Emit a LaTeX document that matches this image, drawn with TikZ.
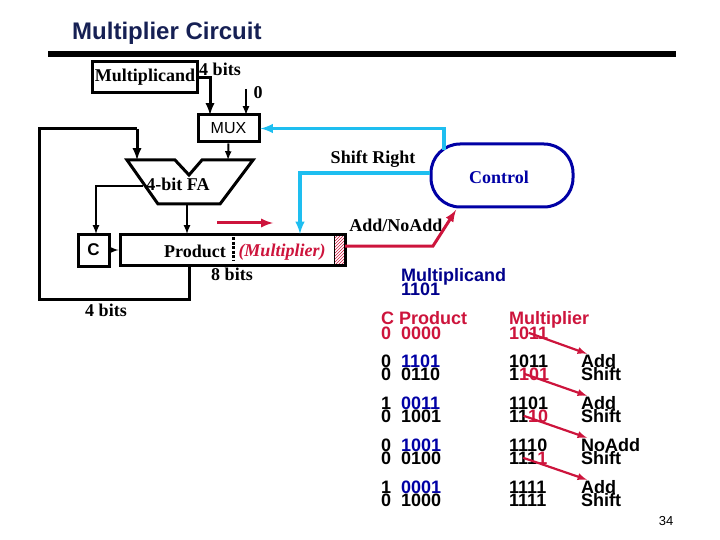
\documentclass[tikz,border=0pt]{standalone}
\usepackage{fontspec}
\setmainfont{Liberation Serif}
\setsansfont{Liberation Sans}
\usetikzlibrary{patterns,positioning}
\definecolor{titleblue}{RGB}{22,32,84}
\definecolor{crimsonred}{RGB}{205,20,60}
\definecolor{sigcyan}{RGB}{30,190,240}
\definecolor{ctrlblue}{RGB}{0,0,165}
\newcommand{\serifbf}[1]{\fontsize{#1}{#1}\selectfont\rmfamily\bfseries}
\newcommand{\sansbf}[1]{\fontsize{#1}{#1}\selectfont\sffamily\bfseries}

\begin{document}
\begin{tikzpicture}[x=1pt,y=-1pt,>=latex,
    box/.style={draw,line width=3pt,inner sep=0pt},
    bus/.style={line width=3pt},
    wire/.style={line width=2pt},
    signal/.style={sigcyan,line width=3.2pt},
    redsig/.style={crimsonred,line width=3pt},
    lbl/.style={font=\serifbf{18},inner sep=0pt},
    tbl/.style={font=\sansbf{18},inner sep=0pt,anchor=base west},
    shiftarrow/.style={crimsonred,line width=2.2pt,->}]
\useasboundingbox (0,0) rectangle (720,540);

% === Title ===
\node[font=\sansbf{24},text=titleblue,anchor=base west,inner sep=0pt] (title) at (72,40) {Multiplier Circuit};
\fill (48,51.5) rectangle (676,57);

% === Multiplicand and MUX ===
\node[box,lbl,minimum width=105,minimum height=31] (mcand) at (145,77.5) {Multiplicand};
\node[lbl] (mbits) at (220,69) {4 bits};
\node[lbl] (zero) at (258,93) {0};
\node[box,minimum width=61,minimum height=27,font=\fontsize{16}{16}\selectfont\sffamily] (mux) at (228.5,128.5) {MUX};
\coordinate (muxl) at (210,115);
\coordinate (muxr) at (246,115);
\coordinate (zerotop) at (246,89);
\draw[bus,->] (mcand.east) -| (muxl);
\draw[wire,->] (zerotop) -- (muxr);

% === Adder ===
\coordinate (fatopl) at (127,160);
\coordinate (fatopm) at (228,160);
\coordinate (fatopf) at (137,160);
\coordinate (fabot) at (187,204);
\coordinate (faside) at (143,186);
\draw[line width=3pt,line join=miter] (fatopl) -- (175,160) -- (189,175) -- (202,160) -- (253,160) -- (220,204) -- (158,204) -- cycle;
\node[lbl] (fa) at (178,184) {4-bit FA};
\draw[wire,->] (mux.south) -- (fatopm);

% === Product register ===
\node[box,font=\sansbf{17},minimum width=31,minimum height=32] (carry) at (93.5,250) {C};
\node[box,minimum width=225,minimum height=31] (prod) at (232.5,250) {};
\node[lbl] (prodtxt) at (195,251) {Product};
\node[lbl,font=\serifbf{18}\itshape,text=crimsonred] (mtxt) at (282,252) {(Multiplier)};
\node[lbl] (ebits) at (232,274) {8 bits};
\node[lbl] (fbits) at (106,310) {4 bits};
\draw[line width=3pt,dash pattern=on 3pt off 1.5pt] (233,237) -- (233,261);
\draw[pattern=north east lines,pattern color=crimsonred,line width=1pt] (334,235.5) rectangle (344,264.5);
\coordinate (prodfa) at (187,234);
\coordinate (prodout) at (189,267);
\coordinate (prodctl) at (300,234);
\coordinate (prodbit) at (345,246);
\coordinate (carryin) at (96,234);
\draw[wire,->] (fabot) -- (prodfa);
\draw[wire,->] (faside) -| (carryin);
\draw[wire,->] (carry.east) -- (prod.west);
\draw[bus] (prodout) -- (189,299) -- (39,299) -- (39,129) -- (137,129);
\draw[bus,->] (137,129) -- (fatopf);
\coordinate (rshifta) at (217,223);
\coordinate (rshiftb) at (273,223);
\draw[redsig,->] (rshifta) -- (rshiftb);

% === Control ===
\node[draw=ctrlblue,line width=3pt,rounded corners=29,minimum width=142,minimum height=63,font=\serifbf{18},text=ctrlblue,inner sep=0pt] (ctrl) at (502,175.5) {};
\node[font=\serifbf{18},text=ctrlblue,inner sep=0pt] (ctrltxt) at (499,177) {Control};
\node[lbl] (shr) at (373,159) {Shift Right};
\node[lbl] (addno) at (396,225) {Add/NoAdd};
\coordinate (ctrltop) at (444,150);
\coordinate (ctrlred) at (456,210);
\draw[signal,->] (ctrltop) |- (mux.east);
\draw[signal,->] (ctrl.west |- 0,173) -| (prodctl);
\draw[redsig,->] (prodbit) -- (433,246) -- (ctrlred);

% === Worked example ===
\node[tbl,text=ctrlblue!85!black] (tmcand) at (401,281) {Multiplicand};
\node[tbl,text=ctrlblue!85!black] (tval) at (401,295) {1101};
\node[tbl,text=crimsonred] (hcp) at (381,324) {C Product};
\node[tbl,text=crimsonred] (hm) at (509,324) {Multiplier};
\node[tbl,text=crimsonred] (c0) at (381,339) {0};
\node[tbl,text=crimsonred] (p0) at (401,339) {0000};
\node[tbl,text=crimsonred] (m0) at (509,339) {1011};
\foreach \id/\y/\c/\p/\m/\a in {
    a/367/0/1101/1011/Add,
    b/409/1/0011/1101/Add,
    c/451/0/1001/1110/NoAdd,
    d/493/1/0001/1111/Add} {
    \node[tbl] (c\id) at (381,\y) {\c};
    \node[tbl,text=ctrlblue] (p\id) at (401,\y) {\p};
    \node[tbl] (m\id) at (509,\y) {\m};
    \node[tbl] (o\id) at (581,\y) {\a};
}
\foreach \id/\y/\c/\p/\m in {
    e/380/0/0110/1\textcolor{crimsonred}{101},
    f/422/0/1001/11\textcolor{crimsonred}{10},
    g/464/0/0100/111\textcolor{crimsonred}{1},
    h/506/0/1000/1111} {
    \node[tbl] (c\id) at (381,\y) {\c};
    \node[tbl] (p\id) at (401,\y) {\p};
    \node[tbl] (m\id) at (509,\y) {\m};
    \node[tbl] (o\id) at (581,\y) {Shift};
}
\draw[shiftarrow] (m0.center) -- ([xshift=6pt]oa.north west);
\foreach \from/\to in {e/b,f/c,g/d}
    \draw[shiftarrow] ([xshift=-5pt]m\from.center) -- ([xshift=6pt]o\to.north west);

% Page number
\node[font=\fontsize{13}{13}\selectfont\sffamily,inner sep=0pt] (pagenum) at (666,521) {34};
\end{tikzpicture}
\end{document}
